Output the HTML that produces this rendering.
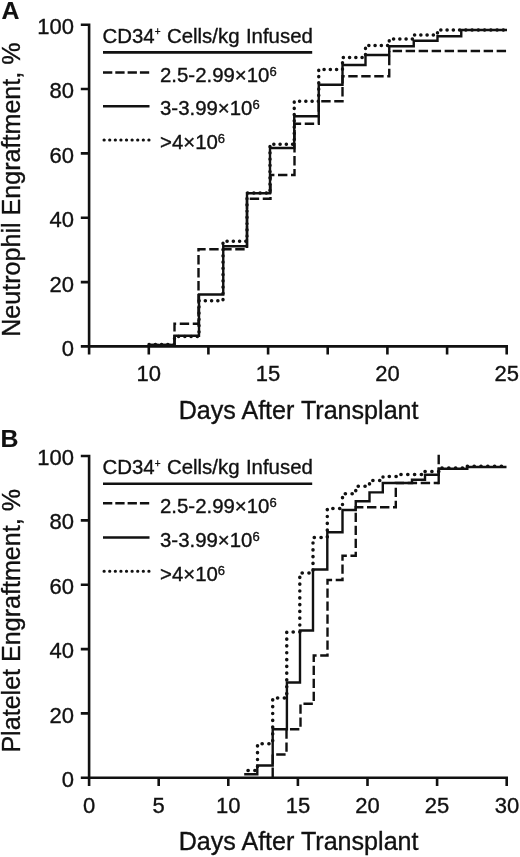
<!DOCTYPE html>
<html><head><meta charset="utf-8">
<style>
html,body{margin:0;padding:0;background:#fff;}
body{width:520px;height:857px;overflow:hidden;}
svg{display:block;will-change:transform;}
text{font-family:"Liberation Sans",sans-serif;fill:#111;stroke:#111;stroke-width:0.35px;}
.ax{stroke:#111;stroke-width:2.6;fill:none;stroke-linecap:butt;stroke-linejoin:miter;}
.s{stroke:#111;stroke-width:2.4;fill:none;stroke-linejoin:miter;}
.d{stroke:#111;stroke-width:2.4;fill:none;stroke-dasharray:9.4 3.6;}
.o{stroke:#111;stroke-width:3.4;fill:none;stroke-dasharray:0.2 6.05;stroke-linecap:round;stroke-linejoin:round;}
.tk{font-size:22px;}
.lg{font-size:20.4px;}
.su{font-size:13px;}
.pn{font-size:24.8px;font-weight:bold;stroke-width:0.15px;}
</style></head><body>
<svg width="520" height="857" viewBox="0 0 520 857">
<rect width="520" height="857" fill="#fff"/>
<!-- ================= PANEL A ================= -->
<g id="A">
<text class="pn" x="1.5" y="19.2">A</text>
<!-- axes -->
<path class="ax" d="M80.8 24.7H89.1V354.6M80.8 89H89.1M80.8 153.4H89.1M80.8 217.7H89.1M80.8 282.1H89.1M80.8 346.4H506.7V354.6M148.8 346.4V354.6M208.4 346.4V354.6M268.1 346.4V354.6M327.7 346.4V354.6M387.4 346.4V354.6M447.1 346.4V354.6"/>
<g class="tk" text-anchor="end">
<text x="74" y="34">100</text><text x="74" y="98.4">80</text><text x="74" y="162.8">60</text><text x="74" y="227.2">40</text><text x="74" y="291.6">20</text><text x="74" y="356">0</text>
</g>
<g class="tk" text-anchor="middle">
<text x="148.8" y="381.2">10</text><text x="268.1" y="381.2">15</text><text x="387.4" y="381.2">20</text><text x="506.7" y="381.2">25</text>
</g>
<text x="298.6" y="419" font-size="25.1" text-anchor="middle">Days After Transplant</text>
<text transform="translate(20.3 189.6) rotate(-90)" font-size="25.1" text-anchor="middle">Neutrophil Engraftment, %</text>
<!-- legend -->
<text class="lg" x="102.5" y="42.7" word-spacing="0.8">CD34<tspan font-size="10" dy="-7.5">+</tspan><tspan dy="7.5"> Cells/kg Infused</tspan></text>
<path class="ax" d="M103 52.4H312.2"/>
<path class="d" style="stroke-dasharray:9.3 3" d="M103 72.5H150"/>
<path class="s" d="M103 106.2H149.5"/>
<path class="o" style="stroke-width:3;stroke-dasharray:0.25 5.35" d="M104 140H150"/>
<text class="lg" x="160" y="81.6">2.5-2.99×10<tspan class="su" dy="-6">6</tspan></text>
<text class="lg" x="160" y="115.4">3-3.99×10<tspan class="su" dy="-6">6</tspan></text>
<text class="lg" x="160" y="149.2">&gt;4×10<tspan class="su" dy="-6">6</tspan></text>
<!-- curves -->
<path class="d" d="M149 345H174.5V323.75H198.5V249.25H247V198.75H270.5V175H294.5V123.75H318.75V101.25H342.5V76.25H389.25V51"/>
<path class="d" style="stroke-dashoffset:9.6" d="M389.25 51H507"/>
<path class="o" d="M149 344.5H174.5V336.5H199V300.75H223V241.25H247V193H270V144.25H294.25V101.25H318.75V69.5H342.5V57.5H365.5V45.5H389.25V39H413.75V35H437.5V30H507"/>
<path class="s" d="M149 345H174.5V335.75H199V294.5H223.25V246.25H247V193.25H270V148H294.25V116.25H318.75V84.75H342.5V65H365.5V55H389.25V46.25H413.75V40.75H437.5V36.25H461.25V30H507"/>
</g>
<!-- ================= PANEL B ================= -->
<g id="B">
<text class="pn" x="0.6" y="447.3">B</text>
<path class="ax" d="M80.8 456H89.1V786M80.8 520.4H89.1M80.8 584.7H89.1M80.8 649.1H89.1M80.8 713.4H89.1M80.8 777.8H506.7V786M158.7 777.8V786M228.3 777.8V786M297.9 777.8V786M367.5 777.8V786M437.1 777.8V786"/>
<g class="tk" text-anchor="end">
<text x="74" y="464.7">100</text><text x="74" y="529.1">80</text><text x="74" y="593.6">60</text><text x="74" y="658">40</text><text x="74" y="722.5">20</text><text x="74" y="787">0</text>
</g>
<g class="tk" text-anchor="middle">
<text x="89.1" y="812.5">0</text><text x="158.7" y="812.5">5</text><text x="228.3" y="812.5">10</text><text x="297.9" y="812.5">15</text><text x="367.5" y="812.5">20</text><text x="437.1" y="812.5">25</text><text x="507" y="812.5">30</text>
</g>
<text x="298.6" y="850" font-size="25.1" text-anchor="middle">Days After Transplant</text>
<text transform="translate(20.3 620.8) rotate(-90)" font-size="25.1" text-anchor="middle">Platelet Engraftment, %</text>
<!-- legend -->
<text class="lg" x="102.5" y="474.2" word-spacing="0.8">CD34<tspan font-size="10" dy="-7.5">+</tspan><tspan dy="7.5"> Cells/kg Infused</tspan></text>
<path class="ax" d="M103 483.8H312.2"/>
<path class="d" style="stroke-dasharray:9.3 3" d="M103 503.3H150"/>
<path class="s" d="M103 537.5H149.5"/>
<path class="o" style="stroke-width:3;stroke-dasharray:0.25 5.35" d="M104 571.3H150"/>
<text class="lg" x="160" y="513.1">2.5-2.99×10<tspan class="su" dy="-6">6</tspan></text>
<text class="lg" x="160" y="546.8">3-3.99×10<tspan class="su" dy="-6">6</tspan></text>
<text class="lg" x="160" y="580.5">&gt;4×10<tspan class="su" dy="-6">6</tspan></text>
<!-- curves -->
<path class="d" d="M272.7 777V754.5H286.5V729.25H300.5V703.75H313.75V655.5H327.5V580H342.5V555.75H355.75V507.3H395.8V483H438.7"/>
<path class="s" d="M438.7 484.2V467.6M438.7 464.3V454.8"/>
<path class="o" style="stroke-width:3.5;stroke-dasharray:0.2 6.6" d="M248 770.5H257.5V743.75H272.7V698H286.75V632H299.8V573H313V537.5H327.3V508.5H342.5V493.75H355.75V486.25H369.5V480.5H383V476.5H397V474.6H425V471.5H438.8V468H467V466.2H506.5"/>
<path class="s" d="M244.2 774.2H257.3V765.5H272.7V729.25H286.9V682.5H300V630.5H313V569.5H327.3V532.2H342.5V510H355.75V501.25H369.5V492.4H382.8V483H412V479.7H425V474.7H438.8V468.8H467.3V467H506.5"/>
</g>
</svg>
</body></html>
